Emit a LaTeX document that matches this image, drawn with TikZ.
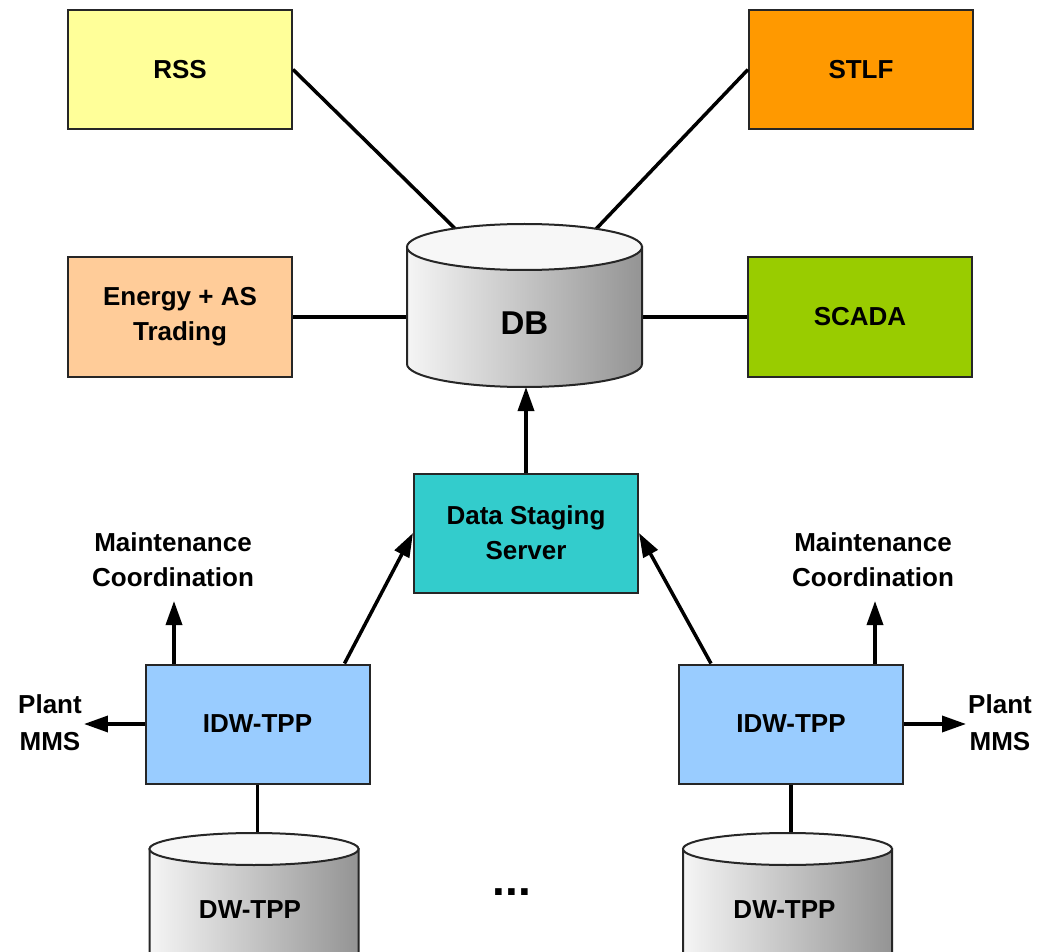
\documentclass[tikz,border=0pt]{standalone}
\usepackage{fontspec}
\setmainfont{Liberation Sans}
\usetikzlibrary{arrows.meta,calc}
\newcommand{\lbl}{\bfseries\fontsize{26}{35}\selectfont}
\newcommand{\cylshape}[5]{%
  \shadedraw[left color=black!4, right color=black!42, draw=black!85, line width=2pt]
    (#1-#4,#2) -- (#1-#4,#3) arc[start angle=180,end angle=0,x radius=#4,y radius=#5] -- (#1+#4,#2) -- cycle;
  \filldraw[fill=black!3, draw=black!85, line width=2pt] (#1,#2) ellipse[x radius=#4, y radius=#5];
}
\definecolor{cRSS}{HTML}{FFFF99}
\definecolor{cSTLF}{HTML}{FF9900}
\definecolor{cEN}{HTML}{FFCC99}
\definecolor{cSC}{HTML}{99CC00}
\definecolor{cDSS}{HTML}{33CCCC}
\definecolor{cIDW}{HTML}{99CCFF}
\tikzset{
  box/.style={draw=black!85, line width=2pt, minimum width=224pt, minimum height=119pt, align=center, font=\lbl, inner sep=0pt},
  txt/.style={align=center, font=\lbl, inner sep=2pt},
  conn/.style={line width=3.5pt, draw=black},
  arr/.style={line width=3.5pt, draw=black, -{Triangle[length=24pt,width=16pt]}},
  ghost/.style={inner sep=0pt, outer sep=0pt}
}
\begin{document}
\begin{tikzpicture}[x=1pt,y=-1pt]
\useasboundingbox (0,0) rectangle (1037,952);
\fill[white] (0,0) rectangle (1037,952);

% nodes
\node[box, fill=cRSS] (rss) at (180,69.5) {RSS};
\node[box, fill=cSTLF] (stlf) at (861,69.5) {STLF};
\node[box, fill=cEN] (energy) at (180,317) {Energy + AS\\Trading};
\node[box, fill=cSC] (scada) at (860,317) {SCADA};
\node[ghost, minimum width=235pt, minimum height=163pt] (db) at (524.5,305.5) {};
\coordinate (dbtl) at (455,228.5);
\coordinate (dbtr) at (596,229);
\node[box, fill=cDSS] (dss) at (526,533) {Data Staging\\Server};
\node[box, fill=cIDW] (idwl) at (257.5,724) {IDW-TPP};
\node[box, fill=cIDW] (idwr) at (791,724) {IDW-TPP};
\node[ghost, minimum width=209pt, minimum height=134pt] (dwl) at (254,900) {};
\node[ghost, minimum width=209pt, minimum height=134pt] (dwr) at (787.5,900) {};
\node[txt] (mcl) at (173,560) {Maintenance\\Coordination};
\node[txt] (mcr) at (873,560) {Maintenance\\Coordination};
\coordinate (mclt) at (174,601);
\coordinate (mcrt) at (875,601);
\node[txt, font=\bfseries\fontsize{26}{37}\selectfont] (pml) at (50,723) {Plant\\MMS};
\node[txt, font=\bfseries\fontsize{26}{37}\selectfont] (pmr) at (1000,723) {Plant\\MMS};

% connectors (under the cylinders)
\draw[conn] (rss.east) -- (dbtl);
\draw[conn] (stlf.west) -- (dbtr);
\draw[conn] (energy.east) -- (energy.east -| db.west);
\draw[conn] (scada.west) -- (scada.west -| db.east);
\draw[conn] (idwl.south) -- (idwl.south |- dwl.north);
\draw[conn] (idwr.south) -- (idwr.south |- dwr.north);

% cylinders
\cylshape{524.5}{247}{364}{117.5}{23}
\node[font=\bfseries\fontsize{33}{40}\selectfont] (dbt) at (524.5,323) {DB};
\cylshape{254}{849}{975}{104.5}{16}
\cylshape{787.5}{849}{975}{104.5}{16}
\node[txt] (dwlt) at (250,910) {DW-TPP};
\node[txt] (dwrt) at (784.5,910) {DW-TPP};
\node[font=\bfseries\fontsize{46}{46}\selectfont] (dots) at (512,892) {...};

% arrows
\draw[arr] (dss.north) -- (dss.north |- db.south);
\draw[arr] ($(idwl.north east)+(-26,0)$) -- (dss.west);
\draw[arr] ($(idwr.north west)+(33,0)$) -- (dss.east);
\draw[arr] (idwl.north -| mclt) -- (mclt);
\draw[arr] (idwr.north -| mcrt) -- (mcrt);
\draw[arr] (idwl.west) -- (idwl.west -| pml.east);
\draw[arr] (idwr.east) -- (idwr.east -| pmr.west);
\end{tikzpicture}
\end{document}
